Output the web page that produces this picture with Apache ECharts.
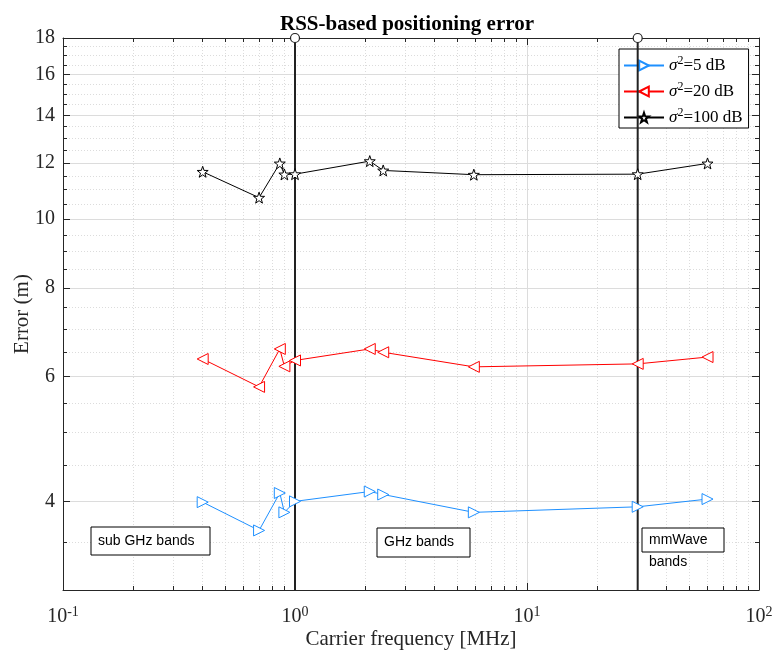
<!DOCTYPE html>
<html>
<head>
<meta charset="utf-8">
<script src="https://cdn.jsdelivr.net/npm/echarts@6/dist/echarts.min.js"></script>
<style>
  html, body { margin: 0; padding: 0; background: #fff; }
  #chart { width: 774px; height: 650px; }
</style>
</head>
<body>
<div id="chart"></div>
<script>
// carrier frequencies (x) and errors per noise level (y)
const FREQS = [0.4, 0.7, 0.86, 0.9, 1, 2.1, 2.4, 5.9, 30, 60];
const ERR_5 = [3.99, 3.64, 4.11, 3.86, 4.00, 4.13, 4.09, 3.86, 3.93, 4.03];
const ERR_20 = [6.35, 5.80, 6.56, 6.20, 6.32, 6.56, 6.49, 6.19, 6.25, 6.39];
const ERR_100 = [11.66, 10.72, 11.98, 11.56, 11.57, 12.07, 11.71, 11.55, 11.57, 11.98];

const SERIES_NAMES = ["s5", "s20", "s100"];
const LEGEND_LABELS = ["5 dB", "20 dB", "100 dB"];

// band separators (stem lines)
const STEM_X = [1, 30];
const STEM_TOP = 18;

// axis ticks
const X_MAJOR = [0.1, 1, 10, 100];
const X_MINOR = [0.2, 0.3, 0.4, 0.5, 0.6, 0.7, 0.8, 0.9, 2, 3, 4, 5, 6, 7, 8, 9, 20, 30, 40, 50, 60, 70, 80, 90];
const Y_MAJOR = [4, 6, 8, 10, 12, 14, 16, 18];
const Y_MINOR = [3.5, 4.5, 5, 5.5, 6.5, 7, 7.5, 8.5, 9, 9.5, 10.5, 11, 11.5, 12.5, 13, 13.5, 14.5, 15, 15.5, 16.5, 17, 17.5];
const X_MIN = 0.1, X_MAX = 100, Y_MIN = 3, Y_MAX = 18;

const SERIF = "Liberation Serif";
const SANS = "Liberation Sans";
const AXIS_COLOR = "#262626";
const GRID_COLOR = "#dcdcdc";

const pairs = (ys) => FREQS.map((f, i) => [f, ys[i]]);

const STAR = "path://M0,-10L2.35,-3.24L9.51,-3.09L3.8,1.24L5.88,8.09L0,4L-5.88,8.09L-3.8,1.24L-9.51,-3.09L-2.35,-3.24Z";

const xAxisBase = (extra) => Object.assign({
  type: "log", logBase: 10, min: X_MIN, max: X_MAX, gridIndex: 0,
  axisLine: { show: false },
  axisLabel: { show: false },
  splitLine: { show: false },
}, extra);

const yAxisBase = (extra) => Object.assign({
  type: "log", logBase: 10, min: Y_MIN, max: Y_MAX, gridIndex: 0,
  axisLine: { show: false },
  axisLabel: { show: false },
  splitLine: { show: false },
}, extra);

const xExp = { "0.1": "-1", "1": "0", "10": "1", "100": "2" };

const xAxes = [
  xAxisBase({
    position: "bottom",
    axisLine: { show: true, lineStyle: { color: AXIS_COLOR, width: 1 } },
    axisTick: { inside: true, length: 7, customValues: X_MAJOR, lineStyle: { color: AXIS_COLOR } },
    axisLabel: {
      show: true, customValues: X_MAJOR, margin: 15,
      formatter: (v) => "{b|10}{s|" + xExp[String(+v.toPrecision(3))] + "}",
      rich: {
        b: { fontFamily: SERIF, fontSize: 20, color: AXIS_COLOR },
        s: { fontFamily: SERIF, fontSize: 14, color: AXIS_COLOR, padding: [0, 0, 10, 0] },
      },
    },
    splitLine: { show: true, lineStyle: { color: GRID_COLOR, width: 1 } },
    name: "Carrier frequency [MHz]", nameLocation: "middle", nameGap: 39, nameMoveOverlap: false,
    nameTextStyle: { fontFamily: SERIF, fontSize: 21, color: AXIS_COLOR },
  }),
  xAxisBase({
    position: "bottom",
    axisTick: { inside: true, length: 4, customValues: X_MINOR, lineStyle: { color: AXIS_COLOR } },
    splitLine: { show: true, lineStyle: { color: GRID_COLOR, width: 1, type: [1, 2] } },
  }),
  xAxisBase({
    position: "top",
    axisLine: { show: true, lineStyle: { color: AXIS_COLOR, width: 1 } },
    axisTick: { inside: true, length: 7, customValues: X_MAJOR, lineStyle: { color: AXIS_COLOR } },
  }),
  xAxisBase({
    position: "top",
    axisTick: { inside: true, length: 4, customValues: X_MINOR, lineStyle: { color: AXIS_COLOR } },
  }),
];

const yAxes = [
  yAxisBase({
    position: "left",
    axisLine: { show: true, lineStyle: { color: AXIS_COLOR, width: 1 } },
    axisTick: { inside: true, length: 7, customValues: Y_MAJOR, lineStyle: { color: AXIS_COLOR } },
    axisLabel: {
      show: true, customValues: Y_MAJOR, margin: 8,
      fontFamily: SERIF, fontSize: 20, color: AXIS_COLOR,
      formatter: (v) => String(Math.round(v)),
    },
    splitLine: { show: true, lineStyle: { color: GRID_COLOR, width: 1 } },
    name: "Error (m)", nameLocation: "middle", nameGap: 30, nameRotate: 90, nameMoveOverlap: false,
    nameTextStyle: { fontFamily: SERIF, fontSize: 21, color: AXIS_COLOR },
  }),
  yAxisBase({
    position: "left",
    axisTick: { inside: true, length: 4, customValues: Y_MINOR, lineStyle: { color: AXIS_COLOR } },
    splitLine: { show: true, lineStyle: { color: GRID_COLOR, width: 1, type: [1, 2] } },
  }),
  yAxisBase({
    position: "right",
    axisLine: { show: true, lineStyle: { color: AXIS_COLOR, width: 1 } },
    axisTick: { inside: true, length: 7, customValues: Y_MAJOR, lineStyle: { color: AXIS_COLOR } },
  }),
  yAxisBase({
    position: "right",
    axisTick: { inside: true, length: 4, customValues: Y_MINOR, lineStyle: { color: AXIS_COLOR } },
  }),
];

const dataSeries = (name, ys, color, symbol, rotate, size) => ({
  name: name, type: "line", xAxisIndex: 0, yAxisIndex: 0,
  data: pairs(ys),
  symbol: symbol, symbolSize: size, symbolRotate: rotate,
  lineStyle: { color: color, width: 1 },
  itemStyle: { color: "#fff", borderColor: color, borderWidth: 1 },
  z: 5, clip: false, animation: false,
});

const stemSeries = STEM_X.map((x) => ({
  type: "line", xAxisIndex: 0, yAxisIndex: 0,
  data: [
    { value: [x, Y_MIN], symbol: "none" },
    { value: [x, STEM_TOP], symbol: "circle", symbolSize: 9 },
  ],
  lineStyle: { color: "#222", width: 2 },
  itemStyle: { color: "#fff", borderColor: "#222", borderWidth: 1.2 },
  z: 4, clip: false, animation: false, silent: true,
}));

// annotation boxes (MATLAB textboxes)
const boxText = (x, y, w, h, text, tx, ty) => [
  { type: "rect", shape: { x: x, y: y, width: w, height: h },
    style: { fill: "#fff", stroke: "#000", lineWidth: 1 }, z: 20 },
  { type: "text", x: tx, y: ty,
    style: { text: text, font: "14px " + SANS, fill: "#000", textVerticalAlign: "middle", lineHeight: 19 }, z: 21 },
];

const chart = echarts.init(document.getElementById("chart"), null, { renderer: "canvas" });
chart.setOption({
  backgroundColor: "#fff",
  animation: false,
  title: {
    text: "RSS-based positioning error",
    left: 402, top: 9, textAlign: "center",
    textStyle: { fontFamily: SERIF, fontSize: 21, fontWeight: "bold", color: "#000" },
  },
  grid: { left: 63, right: 15, top: 38, bottom: 60, containLabel: false, outerBoundsMode: "none" },
  legend: {
    data: SERIES_NAMES,
    orient: "vertical", left: 619, top: 49,
    padding: [6, 6, 2, 4], itemGap: 7, itemWidth: 40, itemHeight: 12,
    backgroundColor: "#fff", borderColor: "#000", borderWidth: 1, borderRadius: 0,
    formatter: (name) => "{i|σ}{s|2}{t|=" + LEGEND_LABELS[SERIES_NAMES.indexOf(name)] + "}",
    textStyle: {
      rich: {
        i: { fontFamily: SERIF, fontSize: 17, fontStyle: "italic", color: "#000" },
        s: { fontFamily: SERIF, fontSize: 12, color: "#000", padding: [0, 0, 9, 0] },
        t: { fontFamily: SERIF, fontSize: 17, color: "#000" },
      },
    },
  },
  xAxis: xAxes,
  yAxis: yAxes,
  series: [
    dataSeries(SERIES_NAMES[0], ERR_5, "#1e90ff", "triangle", -90, 11),
    dataSeries(SERIES_NAMES[1], ERR_20, "#ff0000", "triangle", 90, 11),
    dataSeries(SERIES_NAMES[2], ERR_100, "#000", STAR, 0, 11),
  ].concat(stemSeries),
  graphic: [].concat(
    boxText(91, 527, 119, 28, "sub GHz bands", 98, 541),
    boxText(377, 528, 93, 29, "GHz bands", 384, 542),
    boxText(642, 528, 82, 24, "mmWave", 649, 540),
    [{ type: "text", x: 649, y: 562, style: { text: "bands", font: "14px " + SANS, fill: "#000", textVerticalAlign: "middle" }, z: 21 }]
  ),
});
</script>
</body>
</html>
